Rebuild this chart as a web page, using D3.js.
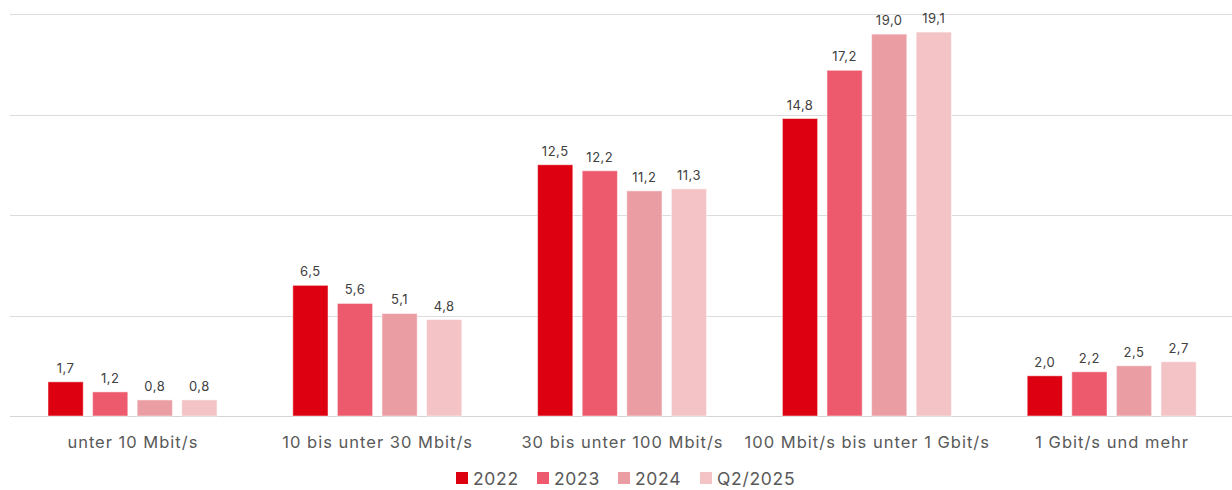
<!DOCTYPE html>
<html>
<head>
<meta charset="utf-8">
<script src="https://cdn.jsdelivr.net/npm/d3@7"></script>
<style>
  html, body { margin: 0; padding: 0; background: #fff; }
  svg { display: block; font-family: Inter, "Open Sans", sans-serif; }
</style>
</head>
<body>
<svg id="chart" width="1232" height="490"></svg>
<script>
// Bandwidth classes and yearly shares (percent)
const categories = ["unter 10 Mbit/s", "10 bis unter 30 Mbit/s", "30 bis unter 100 Mbit/s", "100 Mbit/s bis unter 1 Gbit/s", "1 Gbit/s und mehr"];
const seriesNames = ["2022", "2023", "2024", "Q2/2025"];
const values2022 = [1.7, 6.5, 12.5, 14.8, 2.0];
const values2023 = [1.2, 5.6, 12.2, 17.2, 2.2];
const values2024 = [0.8, 5.1, 11.2, 19.0, 2.5];
const valuesQ2_2025 = [0.8, 4.8, 11.3, 19.1, 2.7];
const gridTicks = [0, 5, 10, 15, 20];
const colors = ["#dc0011", "#ed5a6d", "#ea9ea4", "#f3c3c6"];

const seriesValues = [values2022, values2023, values2024, valuesQ2_2025];
const fmt = v => v.toFixed(1).replace(".", ",");

const svg = d3.select("#chart");
const plotLeft = 10, plotRight = 1234, plotTop = 14, plotBottom = 416;

const x0 = d3.scaleBand().domain(categories).range([plotLeft, plotRight]).paddingInner(0).paddingOuter(0);
const x1 = d3.scaleBand().domain(seriesNames).range([38, 207]).paddingInner(0.21).paddingOuter(0);
const y = d3.scaleLinear().domain([0, 20]).range([plotBottom, plotTop]);

// Horizontal gridlines
svg.append("g").selectAll("line").data(gridTicks).join("line")
  .attr("x1", plotLeft).attr("x2", 1232)
  .attr("y1", d => Math.round(y(d)) + 0.5).attr("y2", d => Math.round(y(d)) + 0.5)
  .attr("stroke", d => d === 0 ? "#d4d4d4" : "#dcdcdc")
  .attr("stroke-width", 1);

// Bars grouped by category
const groups = svg.append("g").selectAll("g").data(categories).join("g")
  .attr("transform", d => `translate(${x0(d)},0)`);

groups.each(function(cat, ci) {
  const g = d3.select(this);
  const rows = seriesNames.map((s, si) => ({ s, si, v: seriesValues[si][ci] }));
  g.selectAll("rect").data(rows).join("rect")
    .attr("x", d => x1(d.s))
    .attr("y", d => y(d.v))
    .attr("width", x1.bandwidth())
    .attr("height", d => y(0) - y(d.v))
    .attr("fill", d => colors[d.si])
    .attr("stroke", "#ffffff")
    .attr("stroke-opacity", 0.5)
    .attr("stroke-width", 1);
  g.selectAll("text").data(rows).join("text")
    .attr("x", d => x1(d.s) + x1.bandwidth() / 2)
    .attr("y", d => y(d.v) - 9)
    .attr("text-anchor", "middle")
    .attr("font-size", 13)
    .attr("letter-spacing", 0.5)
    .attr("fill", "#404040")
    .text(d => fmt(d.v));
});

// Category axis labels
svg.append("g").selectAll("text").data(categories).join("text")
  .attr("x", d => x0(d) + x0.bandwidth() / 2 + 0.5)
  .attr("y", 448)
  .attr("text-anchor", "middle")
  .attr("font-size", 16.5)
  .attr("letter-spacing", 1)
  .attr("fill", "#595959")
  .text(d => d);

// Legend
const legendX = [456, 537, 618, 700];
const legend = svg.append("g").selectAll("g").data(seriesNames).join("g")
  .attr("transform", (d, i) => `translate(${legendX[i]},472)`);
legend.append("rect").attr("width", 12).attr("height", 12)
  .attr("fill", (d, i) => colors[i]);
legend.append("text").attr("x", 17).attr("y", 12.5)
  .attr("font-size", 17.5).attr("letter-spacing", 0.7).attr("fill", "#595959")
  .text(d => d);
</script>
</body>
</html>
